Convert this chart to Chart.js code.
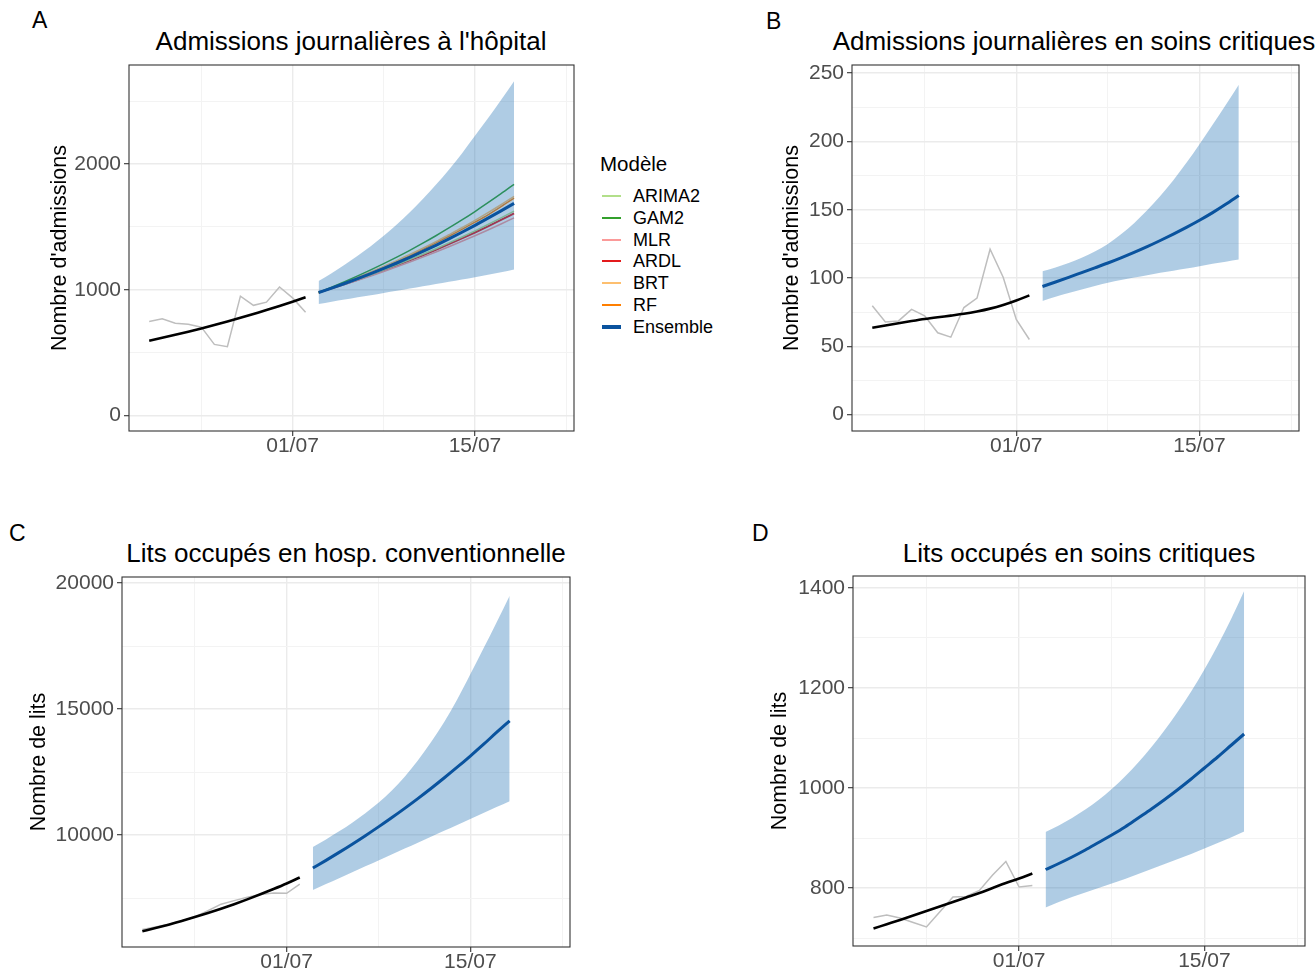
<!DOCTYPE html>
<html>
<head>
<meta charset="utf-8">
<script src="https://cdn.jsdelivr.net/npm/chart.js@4.4.0/dist/chart.umd.min.js"></script>
<style>
  body { margin: 0; width: 1316px; height: 968px; overflow: hidden; background: #fff;
         position: relative; font-family: "Liberation Sans", Arial, sans-serif; color: #000; }
  canvas { position: absolute; }
  .tag { position: absolute; font-size: 23px; line-height: 23px; }
  .ttl { position: absolute; width: 640px; font-size: 26px; line-height: 26px; text-align: center; white-space: nowrap; }
  .leg { position: absolute; font-size: 18px; line-height: 22px; white-space: nowrap; }
  .key { position: absolute; width: 19px; }
</style>
</head>
<body>
<div class="tag" style="left:32px;top:9px">A</div>
<div class="tag" style="left:766px;top:10px">B</div>
<div class="tag" style="left:9px;top:522px">C</div>
<div class="tag" style="left:752px;top:522px">D</div>

<div class="ttl" style="left:31px;top:28px">Admissions journalières à l'hôpital</div>
<div class="ttl" style="left:754px;top:28px">Admissions journalières en soins critiques</div>
<div class="ttl" style="left:26px;top:540px">Lits occupés en hosp. conventionnelle</div>
<div class="ttl" style="left:759px;top:540px">Lits occupés en soins critiques</div>

<canvas id="chartA" width="557" height="418" style="left:29px;top:53px"></canvas>
<canvas id="chartB" width="559" height="418" style="left:752px;top:53px"></canvas>
<canvas id="chartC" width="560" height="422" style="left:22px;top:565px"></canvas>
<canvas id="chartD" width="560" height="422" style="left:753px;top:564px"></canvas>
<div id="legend"></div>

<script>
// days relative to 01/07
const histDays = [-11, -10, -9, -8, -7, -6, -5, -4, -3, -2, -1, 0, 1];
const fcDays = [2, 3, 4, 5, 6, 7, 8, 9, 10, 11, 12, 13, 14, 15, 16, 17];
const xTickValues = [0, 14];
const xTickLabels = ['01/07', '15/07'];
const xMinorTicks = [-7, 7, 21];

// A - admissions journalieres hopital
const aObs = [747, 768, 734, 726, 702, 565, 546, 949, 876, 901, 1022, 935, 820];
const aFit = [594, 617, 641, 666, 692, 719, 747, 776, 807, 838, 871, 905, 940];
const aEns = [978, 1013, 1050, 1089, 1129, 1170, 1213, 1258, 1305, 1354, 1405, 1458, 1513, 1570, 1628, 1688];
const aLow = [886, 905, 922, 940, 957, 975, 992, 1010, 1028, 1046, 1064, 1082, 1100, 1120, 1140, 1162];
const aUpp = [1070, 1132, 1199, 1271, 1347, 1430, 1520, 1618, 1723, 1836, 1956, 2086, 2226, 2366, 2511, 2660];
const aArima2 = [978, 1012, 1047, 1083, 1120, 1159, 1199, 1240, 1283, 1327, 1373, 1420, 1469, 1520, 1572, 1626];
const aGam2 = [978, 1020, 1064, 1110, 1158, 1208, 1260, 1314, 1371, 1430, 1492, 1556, 1623, 1693, 1765, 1840];
const aMlr = [978, 1009, 1042, 1075, 1110, 1146, 1183, 1221, 1260, 1301, 1343, 1386, 1430, 1476, 1524, 1573];
const aArdl = [978, 1011, 1045, 1080, 1117, 1154, 1193, 1234, 1275, 1318, 1363, 1409, 1456, 1505, 1556, 1608];
const aBrt = [978, 1016, 1056, 1098, 1141, 1186, 1232, 1281, 1331, 1383, 1438, 1494, 1553, 1614, 1677, 1743];
const aRf = [978, 1015, 1054, 1095, 1137, 1181, 1226, 1273, 1322, 1373, 1426, 1481, 1538, 1597, 1662, 1730];
const aYMajor = [0, 1000, 2000];
const aYMinor = [500, 1500, 2500];

// B - admissions soins critiques
const bObs = [79.7, 67.8, 68.6, 77.1, 72.3, 59.9, 56.7, 78.4, 85.3, 121.1, 100.6, 69.7, 55.0];
const bFit = [63.6, 65.3, 66.9, 68.5, 70.0, 71.3, 72.5, 73.8, 75.5, 77.6, 80.3, 83.6, 87.3];
const bEns = [93.8, 97.1, 100.5, 104.0, 107.5, 111.0, 114.8, 118.8, 123.0, 127.5, 132.2, 137.1, 142.3, 147.9, 154.0, 160.5];
const bLow = [83.2, 86.3, 89.1, 91.6, 94.2, 96.6, 98.6, 100.4, 102.1, 103.8, 105.4, 107.0, 108.7, 110.4, 112.0, 113.6];
const bUpp = [105, 107.8, 111, 114.8, 119.4, 125, 132, 140.2, 149.6, 160.1, 171.7, 184.4, 198, 212.2, 226.7, 241.5];
const bYMajor = [0, 50, 100, 150, 200, 250];
const bYMinor = [25, 75, 125, 175, 225];

// C - lits hosp. conventionnelle
const cObs = [6250, 6350, 6460, 6590, 6750, 7000, 7260, 7400, 7530, 7640, 7700, 7690, 8050];
const cFit = [6181, 6310, 6445, 6590, 6746, 6910, 7080, 7260, 7450, 7650, 7860, 8080, 8319];
const cEns = [8694, 8998, 9313, 9639, 9977, 10326, 10687, 11061, 11448, 11849, 12264, 12693, 13137, 13597, 14073, 14536];
const cLow = [7820, 8055, 8290, 8525, 8760, 8995, 9230, 9465, 9700, 9935, 10170, 10405, 10640, 10875, 11110, 11346];
const cUpp = [9529, 9829, 10149, 10494, 10869, 11279, 11759, 12319, 12959, 13679, 14479, 15379, 16379, 17399, 18439, 19499];
const cYMajor = [10000, 15000, 20000];
const cYMinor = [7500, 12500, 17500];

// D - lits soins critiques
const dObs = [741, 746, 740, 731, 722, 752, 782, 783, 795, 826, 853, 802, 805];
const dFit = [719, 727.5, 736, 745, 754, 763, 772, 781, 790, 800, 810, 819, 829];
const dEns = [837, 849, 862, 876, 891, 906, 922, 940, 958, 977, 997, 1018, 1040, 1062, 1085, 1108];
const dLow = [761, 772, 782, 791, 800, 809, 818, 828, 838, 848, 858, 868, 879, 890, 901, 913];
const dUpp = [912, 925, 940, 957, 976, 998, 1023, 1051, 1082, 1116, 1153, 1193, 1237, 1285, 1337, 1394];
const dYMajor = [800, 1000, 1200, 1400];
const dYMinor = [700, 900, 1100, 1300];

const modelNames = ['ARIMA2', 'GAM2', 'MLR', 'ARDL', 'BRT', 'RF', 'Ensemble'];
const modelColors = ['#B2DF8A', '#33A02C', '#FB9A99', '#E31A1C', '#FDBF6F', '#FF7F00', '#0A539E'];

const RIBBON = 'rgba(33,113,181,0.36)';
const TICK_GREY = '#4D4D4D';

const panelBorder = {
  id: 'panelBorder',
  afterDatasetsDraw(chart) {
    const { ctx, chartArea: a } = chart;
    ctx.save();
    ctx.strokeStyle = '#333333';
    ctx.lineWidth = 1.1;
    ctx.strokeRect(a.left, a.top, a.right - a.left, a.bottom - a.top);
    ctx.restore();
  }
};

function pts(days, vals) {
  return days.map((d, i) => ({ x: d, y: vals[i] }));
}

function line(days, vals, color, width, order, smooth) {
  return {
    data: pts(days, vals), borderColor: color, borderWidth: width, pointRadius: 0,
    fill: false, order: order, cubicInterpolationMode: smooth ? 'monotone' : 'default', tension: 0
  };
}

function makeChart(id, p) {
  const yMajor = p.yMajor, yAll = p.yMajor.concat(p.yMinor).sort((a, b) => a - b);
  const xMajor = xTickValues, xAll = xTickValues.concat(xMinorTicks).sort((a, b) => a - b);

  const datasets = [
    line(fcDays, p.ens, modelColors[6], 3, 0, true),
    Object.assign(line(fcDays, p.upp, 'rgba(0,0,0,0)', 0, 1, true), { fill: '+1', backgroundColor: RIBBON }),
    line(fcDays, p.low, 'rgba(0,0,0,0)', 0, 1, true)
  ];
  (p.models || []).forEach((m, i) => {
    datasets.push(line(fcDays, m, modelColors[i], i === 3 ? 2 : 1.5, 2, true));
  });
  datasets.push(line(histDays, p.fit, '#000000', 2.6, 2, true));
  datasets.push(line(histDays, p.obs, '#BEBEBE', 1.5, 3, false));

  new Chart(document.getElementById(id), {
    type: 'line',
    data: { datasets: datasets },
    plugins: [panelBorder],
    options: {
      responsive: false,
      devicePixelRatio: 1,
      animation: false,
      events: [],
      layout: { padding: { top: 12, right: p.padRight, left: 0, bottom: 0 } },
      plugins: { legend: { display: false }, tooltip: { enabled: false } },
      scales: {
        x: {
          type: 'linear', min: -12.55, max: 21.6,
          afterBuildTicks: s => { s.ticks = xAll.map(v => ({ value: v })); },
          afterFit: s => { s.height = 40; s.paddingLeft = 0; s.paddingRight = 0; },
          border: { display: false },
          grid: {
            color: c => (c.tick && xMajor.includes(c.tick.value)) ? '#EBEBEB' : '#F3F3F3',
            lineWidth: c => (c.tick && xMajor.includes(c.tick.value)) ? 1.4 : 1,
            tickColor: c => (c.tick && xMajor.includes(c.tick.value)) ? '#333333' : 'rgba(0,0,0,0)',
            tickLength: 5, tickWidth: 1.1
          },
          ticks: {
            autoSkip: false, maxRotation: 0, padding: -2, color: TICK_GREY,
            font: { size: 21 },
            callback: v => xMajor.includes(v) ? xTickLabels[xMajor.indexOf(v)] : ''
          }
        },
        y: {
          type: 'linear', min: p.yMin, max: p.yMax,
          afterBuildTicks: s => { s.ticks = yAll.map(v => ({ value: v })); },
          afterFit: s => { s.width = 100; s.paddingTop = 0; s.paddingBottom = 0; },
          border: { display: false },
          grid: {
            color: c => (c.tick && yMajor.includes(c.tick.value)) ? '#EBEBEB' : '#F3F3F3',
            lineWidth: c => (c.tick && yMajor.includes(c.tick.value)) ? 1.4 : 1,
            tickColor: c => (c.tick && yMajor.includes(c.tick.value)) ? '#333333' : 'rgba(0,0,0,0)',
            tickLength: 5, tickWidth: 1.1
          },
          ticks: {
            autoSkip: false, padding: 3, color: TICK_GREY, font: { size: 21 },
            callback: v => yMajor.includes(v) ? String(v) : ''
          },
          title: { display: true, text: p.yTitle, color: '#000', font: { size: 21.5 }, padding: p.titlePad }
        }
      }
    }
  });
}

Chart.defaults.font.family = '"Liberation Sans", Arial, sans-serif';

makeChart('chartA', {
  obs: aObs, fit: aFit, ens: aEns, low: aLow, upp: aUpp,
  models: [aArima2, aGam2, aMlr, aArdl, aBrt, aRf],
  yMajor: aYMajor, yMinor: aYMinor, yMin: -125, yMax: 2790,
  yTitle: "Nombre d'admissions", titlePad: 18.1, padRight: 12
});
makeChart('chartB', {
  obs: bObs, fit: bFit, ens: bEns, low: bLow, upp: bUpp,
  yMajor: bYMajor, yMinor: bYMinor, yMin: -12, yMax: 256,
  yTitle: "Nombre d'admissions", titlePad: 27.1, padRight: 12
});
makeChart('chartC', {
  obs: cObs, fit: cFit, ens: cEns, low: cLow, upp: cUpp,
  yMajor: cYMajor, yMinor: cYMinor, yMin: 5560, yMax: 20240,
  yTitle: 'Nombre de lits', titlePad: 3.8, padRight: 12
});
makeChart('chartD', {
  obs: dObs, fit: dFit, ens: dEns, low: dLow, upp: dUpp,
  yMajor: dYMajor, yMinor: dYMinor, yMin: 684, yMax: 1424,
  yTitle: 'Nombre de lits', titlePad: 14.1, padRight: 8
});

// legend for panel A
const legend = document.getElementById('legend');
const title = document.createElement('div');
title.className = 'leg';
title.style.cssText = 'left:600px;top:153px;font-size:20.5px;';
title.textContent = 'Modèle';
legend.appendChild(title);
modelNames.forEach((name, i) => {
  const cy = Math.round(196 + i * 21.8);
  const w = name === 'Ensemble' ? 4 : 2;
  const key = document.createElement('div');
  key.className = 'key';
  key.style.cssText = `left:602px;top:${cy - w / 2}px;height:${w}px;background:${modelColors[i]};`;
  legend.appendChild(key);
  const lab = document.createElement('div');
  lab.className = 'leg';
  lab.style.cssText = `left:633px;top:${cy - 11}px;`;
  lab.textContent = name;
  legend.appendChild(lab);
});
</script>
</body>
</html>
